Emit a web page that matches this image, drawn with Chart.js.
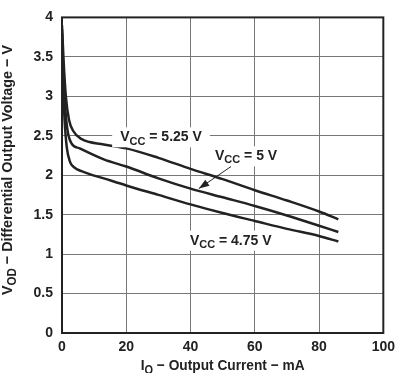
<!DOCTYPE html>
<html>
<head>
<meta charset="utf-8">
<script src="https://cdn.jsdelivr.net/npm/chart.js@4"></script>
<style>
  html, body { margin: 0; padding: 0; background: #fff; }
  #wrap { width: 401px; height: 373px; }
</style>
</head>
<body>
<div id="wrap"><canvas id="chartVod" width="401" height="373"></canvas></div>
<script>
// Output current (mA) and differential output voltage (V) per supply voltage
const vcc525Current = [0, 0.5, 1.2, 2.2, 3.5, 6, 13, 20, 30, 40, 50, 60, 70, 80, 86];
const vcc525Voltage = [3.9, 3.45, 3.0, 2.7, 2.56, 2.46, 2.39, 2.34, 2.22, 2.08, 1.95, 1.81, 1.68, 1.54, 1.44];

const vcc5Current = [0, 0.4, 1.0, 1.8, 3.0, 5.5, 13, 20, 30, 40, 50, 60, 70, 80, 86];
const vcc5Voltage = [3.85, 3.3, 2.85, 2.55, 2.40, 2.34, 2.20, 2.11, 1.96, 1.83, 1.72, 1.61, 1.49, 1.36, 1.28];

const vcc475Current = [0, 0.3, 0.8, 1.5, 2.5, 3.5, 7.5, 13, 20, 30, 40, 50, 60, 70, 80, 86];
const vcc475Voltage = [3.8, 3.2, 2.7, 2.35, 2.17, 2.11, 2.03, 1.96, 1.87, 1.75, 1.63, 1.52, 1.42, 1.32, 1.23, 1.16];

const xTicks = [0, 20, 40, 60, 80, 100];
const yTicks = [0, 0.5, 1, 1.5, 2, 2.5, 3, 3.5, 4];

const ink = "#222";
const fontFamily = "'Liberation Sans', Arial, sans-serif";

function toPoints(xs, ys) {
    return xs.map((x, i) => ({ x, y: ys[i] }));
}

function curve(xs, ys) {
    return {
        data: toPoints(xs, ys),
        showLine: true,
        borderColor: ink,
        borderWidth: 2.5,
        pointRadius: 0,
        cubicInterpolationMode: "monotone",
        fill: false
    };
}

// text with subscript runs: parts = [[text, isSub], ...]
function measureSub(ctx, parts, size) {
    let w = 0;
    parts.forEach(([t, sub]) => {
        ctx.font = `bold ${sub ? Math.round(size * 0.78) : size}px ${fontFamily}`;
        w += ctx.measureText(t).width;
    });
    return w;
}

function drawSub(ctx, x, y, parts, size) {
    ctx.textAlign = "left";
    ctx.textBaseline = "middle";
    parts.forEach(([t, sub]) => {
        ctx.font = `bold ${sub ? Math.round(size * 0.78) : size}px ${fontFamily}`;
        ctx.fillText(t, x, sub ? y + size * 0.3 : y);
        x += ctx.measureText(t).width;
    });
}

// curve labels, anchored in data units (left edge of text, vertical centre)
const curveLabels = [
    { x: 18.1, y: 2.48, parts: [["V", false], ["CC", true], [" = 5.25 V", false]] },
    { x: 47.6, y: 2.24, parts: [["V", false], ["CC", true], [" = 5 V", false]] },
    { x: 39.8, y: 1.17, parts: [["V", false], ["CC", true], [" = 4.75 V", false]] }
];

const decorations = {
    id: "decorations",
    afterDatasetsDraw(chart) {
        const { ctx, chartArea, scales } = chart;
        const sx = scales.x, sy = scales.y;
        ctx.save();

        // frame
        ctx.strokeStyle = ink;
        ctx.lineWidth = 2;
        ctx.strokeRect(chartArea.left, chartArea.top, chartArea.right - chartArea.left, chartArea.bottom - chartArea.top);

        // labels on white boxes
        curveLabels.forEach(l => {
            const px = sx.getPixelForValue(l.x);
            const py = sy.getPixelForValue(l.y);
            const w = measureSub(ctx, l.parts, 14);
            ctx.fillStyle = "#fff";
            ctx.fillRect(px - 8, py - 10, w + 16, 20);
            ctx.fillStyle = ink;
            drawSub(ctx, px, py, l.parts, 14);
        });

        // arrow from the 5 V label to its curve
        const ax0 = sx.getPixelForValue(52.6), ay0 = sy.getPixelForValue(2.11);
        const ax1 = sx.getPixelForValue(42.6), ay1 = sy.getPixelForValue(1.83);
        ctx.strokeStyle = ink;
        ctx.lineWidth = 1;
        ctx.beginPath();
        ctx.moveTo(ax0, ay0);
        ctx.lineTo(ax1, ay1);
        ctx.stroke();
        const ang = Math.atan2(ay1 - ay0, ax1 - ax0);
        ctx.fillStyle = ink;
        ctx.beginPath();
        ctx.moveTo(ax1, ay1);
        ctx.lineTo(ax1 - 11 * Math.cos(ang - 0.35), ay1 - 11 * Math.sin(ang - 0.35));
        ctx.lineTo(ax1 - 11 * Math.cos(ang + 0.35), ay1 - 11 * Math.sin(ang + 0.35));
        ctx.closePath();
        ctx.fill();

        // axis titles, set in a narrow face in the original: squeeze along the text
        const xParts = [["I", false], ["O", true], [" \u2212 Output Current \u2212 mA", false]];
        const xw = measureSub(ctx, xParts, 15);
        ctx.save();
        ctx.translate((chartArea.left + chartArea.right) / 2, 366);
        ctx.scale(164 / xw, 1);
        drawSub(ctx, -xw / 2, 0, xParts, 15);
        ctx.restore();

        const yParts = [["V", false], ["OD", true], [" \u2212 Differential Output Voltage \u2212 V", false]];
        const yw = measureSub(ctx, yParts, 15);
        ctx.translate(8, 170);
        ctx.rotate(-Math.PI / 2);
        ctx.scale(250 / yw, 1);
        drawSub(ctx, -yw / 2, 0, yParts, 15);

        ctx.restore();
    }
};

const ctx = document.getElementById("chartVod");

new Chart(ctx, {
    type: "scatter",
    data: {
        datasets: [
            curve(vcc525Current, vcc525Voltage),
            curve(vcc5Current, vcc5Voltage),
            curve(vcc475Current, vcc475Voltage)
        ]
    },
    options: {
        responsive: false,
        animation: false,
        layout: { padding: { left: 0, top: 4, right: 10, bottom: 0 } },
        plugins: {
            legend: { display: false },
            tooltip: { enabled: false }
        },
        scales: {
            x: {
                type: "linear",
                min: 0,
                max: 100,
                afterBuildTicks: s => { s.ticks = xTicks.map(v => ({ value: v })); },
                afterFit: s => { s.height = 40; },
                grid: { color: "#777", lineWidth: 1, drawTicks: false },
                border: { display: false },
                ticks: {
                    padding: 6,
                    color: ink,
                    callback: v => String(v),
                    font: { family: fontFamily, size: 14, weight: "bold" }
                }
            },
            y: {
                type: "linear",
                min: 0,
                max: 4,
                afterBuildTicks: s => { s.ticks = yTicks.map(v => ({ value: v })); },
                afterFit: s => { s.width = 62; },
                grid: { color: "#777", lineWidth: 1, drawTicks: false },
                border: { display: false },
                ticks: {
                    padding: 9,
                    color: ink,
                    callback: v => String(v),
                    font: { family: fontFamily, size: 14, weight: "bold" }
                }
            }
        }
    },
    plugins: [decorations]
});
</script>
</body>
</html>
